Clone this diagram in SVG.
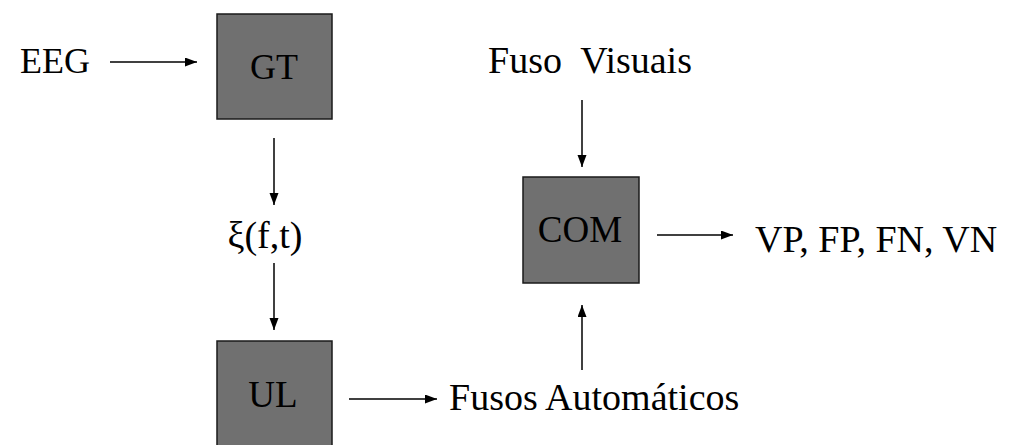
<svg xmlns="http://www.w3.org/2000/svg" width="1011" height="445" viewBox="0 0 1011 445">
  <style>
    .box { fill: #707070; stroke: #1a1a1a; stroke-width: 1.5; }
    .t { font-family: 'Liberation Serif', 'Times New Roman', serif; fill: #000; }
    .c { stroke: #000; stroke-width: 1.5; fill: none; marker-end: url(#ah); }
  </style>
  <defs>
    <marker id="ah" markerUnits="userSpaceOnUse" markerWidth="13" markerHeight="10" refX="12" refY="4.5" orient="auto">
      <path d="M0,0 L12,4.5 L0,9 z" fill="#000"/>
    </marker>
  </defs>
  <rect width="1011" height="445" fill="#fff"/>
  <g id="connectors">
    <line class="c" x1="110" y1="62" x2="197" y2="62"/>
    <line class="c" x1="274" y1="138" x2="274" y2="205"/>
    <line class="c" x1="274" y1="263" x2="274" y2="330"/>
    <line class="c" x1="349" y1="399" x2="437" y2="399"/>
    <line class="c" x1="582" y1="370" x2="582" y2="305"/>
    <line class="c" x1="582" y1="100" x2="582" y2="167"/>
    <line class="c" x1="657" y1="235" x2="733" y2="235"/>
  </g>
  <g id="eeg"><text class="t" x="20" y="73" font-size="36">EEG</text></g>
  <g id="gt">
    <rect class="box" x="217" y="14" width="115" height="105"/>
    <text class="t" x="274" y="79" font-size="36" text-anchor="middle">GT</text>
  </g>
  <g id="xi"><text class="t" x="265" y="248" font-size="38" text-anchor="middle">ξ(f,t)</text></g>
  <g id="ul">
    <rect class="box" x="217" y="341" width="115" height="110"/>
    <text class="t" x="273" y="407" font-size="37" text-anchor="middle">UL</text>
  </g>
  <g id="fusos-auto"><text class="t" x="449" y="410" font-size="38">Fusos Automáticos</text></g>
  <g id="fuso-visuais"><text class="t" x="488" y="73" font-size="38" xml:space="preserve">Fuso  Visuais</text></g>
  <g id="com">
    <rect class="box" x="523" y="177" width="116" height="106"/>
    <text class="t" x="580" y="242" font-size="37" text-anchor="middle">COM</text>
  </g>
  <g id="result"><text class="t" x="755" y="252" font-size="38">VP, FP, FN, VN</text></g>
</svg>
